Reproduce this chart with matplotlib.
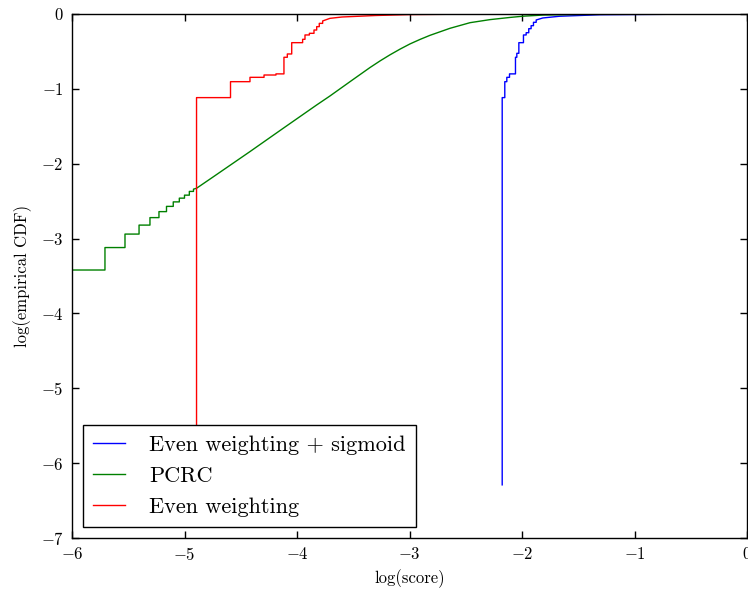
import numpy as np
import matplotlib
matplotlib.use("Agg")
import matplotlib.pyplot as plt

plt.rcParams['font.family'] = 'serif'
plt.rcParams['font.serif'] = ['cmr10']
plt.rcParams['mathtext.fontset'] = 'cm'
plt.rcParams['axes.formatter.use_mathtext'] = True
plt.rcParams['axes.unicode_minus'] = True

# step part of each empirical CDF: x where the CDF jumps, and the new level
green_step_x = [-6.2, -5.707, -5.529, -5.404, -5.307, -5.227, -5.16, -5.10, -5.046, -5.0, -4.957, -4.92]
green_step_y = [-3.42, -3.12, -2.94, -2.82, -2.72, -2.64, -2.57, -2.51, -2.46, -2.42, -2.37, -2.34]
green_tail_x = [-4.893, -4.745, -4.418, -4.122, -3.825, -3.707, -3.511, -3.351, -3.26, -3.173,
                -3.085, -2.996, -2.907, -2.818, -2.64, -2.462, -2.284, -2.107, -1.988, -1.81,
                -1.5, -1.0, 0.0]
green_tail_y = [-2.328, -2.176, -1.838, -1.526, -1.215, -1.095, -0.885, -0.715, -0.625, -0.545,
                -0.47, -0.40, -0.34, -0.285, -0.191, -0.116, -0.075, -0.046, -0.029, -0.014,
                -0.006, -0.002, 0.0]

red_step_x = [-4.893, -4.893, -4.591, -4.418, -4.293, -4.187, -4.116, -4.086, -4.047, -3.95,
              -3.929, -3.89, -3.849, -3.825, -3.802, -3.772]
red_step_y = [-6.29, -1.117, -0.904, -0.846, -0.815, -0.80, -0.578, -0.534, -0.383, -0.338,
              -0.28, -0.258, -0.214, -0.169, -0.125, -0.093]
red_tail_x = [-3.707, -3.6, -3.3, -3.0, -2.5, -1.5, 0.0]
red_tail_y = [-0.058, -0.04, -0.02, -0.008, -0.002, -0.0005, 0.0]

blue_step_x = [-2.176, -2.176, -2.153, -2.135, -2.111, -2.058, -2.046, -2.028, -1.987, -1.963,
               -1.94, -1.919, -1.898, -1.874]
blue_step_y = [-6.29, -1.117, -0.904, -0.846, -0.80, -0.578, -0.525, -0.383, -0.28, -0.25,
               -0.196, -0.156, -0.111, -0.08]
blue_tail_x = [-1.815, -1.666, -1.31, -0.5, 0.0]
blue_tail_y = [-0.053, -0.03, -0.01, -0.002, 0.0]


def staircase(xs, ys, tx, ty):
    vx = np.repeat(xs, 2)[1:]
    vy = np.repeat(ys, 2)[:-1]
    return np.concatenate([vx, tx]), np.concatenate([vy, ty])


fig = plt.figure(figsize=(7.48, 5.90), dpi=100, facecolor='white')
ax = fig.add_axes([72 / 748, 52 / 590, 675 / 748, 524 / 590])

bx, by = staircase(blue_step_x, blue_step_y, blue_tail_x, blue_tail_y)
gx, gy = staircase(green_step_x, green_step_y, green_tail_x, green_tail_y)
rx, ry = staircase(red_step_x, red_step_y, red_tail_x, red_tail_y)

ax.plot(bx, by, color='#0000ff', lw=1.0, label='Even weighting + sigmoid')
ax.plot(gx, gy, color='#008000', lw=1.0, label='PCRC')
ax.plot(rx, ry, color='#ff0000', lw=1.0, label='Even weighting')

ax.set_xlim(-6, 0)
ax.set_ylim(-7, 0)
ax.set_xticks(range(-6, 1))
ax.set_yticks(range(-7, 1))
ax.tick_params(direction='in', top=True, right=True, length=5, width=1, labelsize=12, pad=6)
for s in ax.spines.values():
    s.set_linewidth(1.0)

ax.set_xlabel('log(score)', fontsize=12, labelpad=4)
ax.set_ylabel('log(empirical CDF)', fontsize=12, labelpad=6)

leg = ax.legend(loc='lower left', fontsize=16, frameon=True, fancybox=False, framealpha=1,
                edgecolor='black', handlelength=1.43, handletextpad=1.1, labelspacing=0.52,
                borderpad=0.45, borderaxespad=0.5)
leg.get_frame().set_linewidth(1.0)

fig.savefig('out.png', dpi=100, facecolor='white')
